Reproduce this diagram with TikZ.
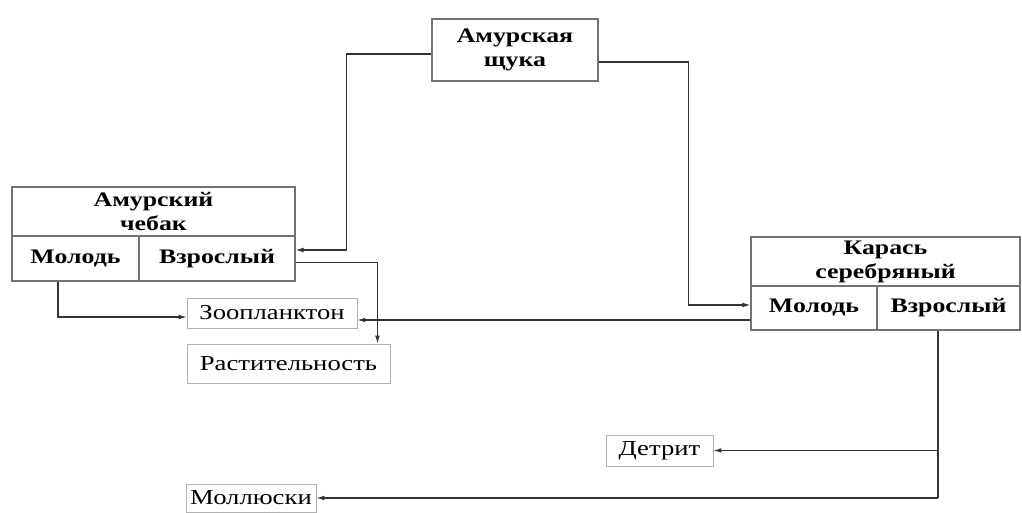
\documentclass[tikz,border=0pt]{standalone}
\usepackage{fontspec}
\setmainfont{Liberation Serif}[FakeStretch=1.25]
\usetikzlibrary{fit,calc,arrows.meta}
\tikzset{
  boxtext/.style={inner sep=0pt, align=center, font=\bfseries\fontsize{15.5}{18}\selectfont},
  bigbox/.style={draw=black!55, line width=0.9pt, inner sep=0pt},
  smallbox/.style={draw=black!30, line width=0.7pt, inner sep=0pt},
  foodtext/.style={inner sep=0pt, font=\fontsize{16}{18}\selectfont},
  conn/.style={draw=black!80, line width=0.8pt},
  arr/.style={conn, -{Latex[length=6pt,width=3.6pt]}}
}
\begin{document}
\begin{tikzpicture}[x=0.75pt,y=-0.75pt]
\path[use as bounding box] (0,0) rectangle (1022,513);
% pike
\node[bigbox, fit={(432,19)(598,81)}, label={[boxtext]center:Амурская\\щука}] (shch) {};
% chebak
\node[bigbox, fit={(12,187)(295,236)}, label={[boxtext]center:Амурский\\чебак}] (cheb) {};
\node[bigbox, fit={(12,236)(139,281)}, label={[boxtext]center:Молодь}] (cml) {};
\node[bigbox, fit={(139,236)(295,281)}, label={[boxtext]center:Взрослый}] (cvz) {};
% karas
\node[bigbox, fit={(751,237)(1020,286)}, label={[boxtext]center:Карась\\серебряный}] (kar) {};
\node[bigbox, fit={(751,286)(877,330)}, label={[boxtext]center:Молодь}] (kml) {};
\node[bigbox, fit={(877,286)(1020,330)}, label={[boxtext]center:Взрослый}] (kvz) {};
% food
\node[smallbox, fit={(187,298)(357,328)}, label={[foodtext]center:Зоопланктон}] (zoo) {};
\node[smallbox, fit={(187,344)(390,383)}, label={[foodtext]center:Растительность}] (rast) {};
\node[smallbox, fit={(606,435)(713,466)}, label={[foodtext]center:Детрит}] (det) {};
\node[smallbox, fit={(186,484)(316,512)}, label={[foodtext]center:Моллюски}] (moll) {};
% connectors
\draw[arr] ($(shch.west)+(0,4)$) -- ++(-85,0) |- ($(cvz.east)+(0,-8.5)$);
\draw[arr] ($(shch.east)+(0,12)$) -- ++(90,0) |- ($(kml.west)+(0,-3)$);
\draw[arr] ($(cvz.east)+(0,4)$) -| ($(rast.north east)+(-13,0)$);
\draw[arr] ($(cml.south)+(-17.5,0)$) |- ($(zoo.west)+(0,4)$);
\coordinate (k1) at ($(kml.west)+(0,12)$);
\draw[arr] (k1) -- (k1 -| zoo.east);
\coordinate (kb) at ($(kvz.south)+(-10.5,0)$);
\draw[conn] (kb) -- (kb |- moll.east);
\draw[arr] (kb |- det.east) -- (det.east);
\draw[arr] (kb |- moll.east) -- (moll.east);
\end{tikzpicture}
\end{document}
